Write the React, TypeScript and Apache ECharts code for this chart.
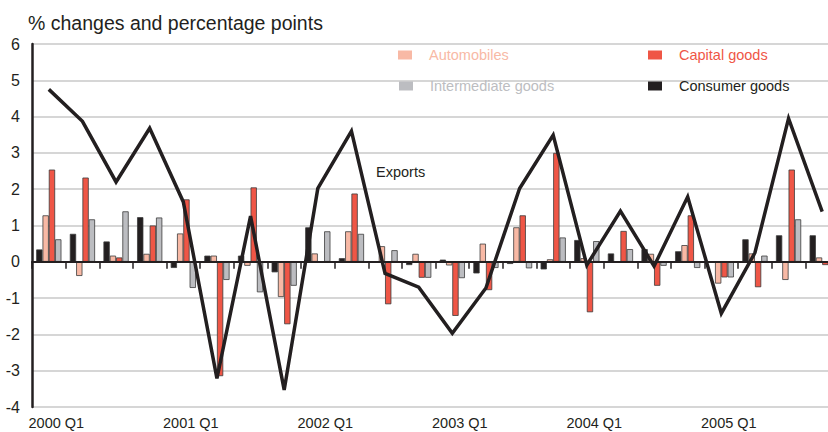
import React, { useEffect, useRef } from "react";
import * as echarts from "echarts";

const categories = [
  "2000 Q1", "2000 Q2", "2000 Q3", "2000 Q4",
  "2001 Q1", "2001 Q2", "2001 Q3", "2001 Q4",
  "2002 Q1", "2002 Q2", "2002 Q3", "2002 Q4",
  "2003 Q1", "2003 Q2", "2003 Q3", "2003 Q4",
  "2004 Q1", "2004 Q2", "2004 Q3", "2004 Q4",
  "2005 Q1", "2005 Q2", "2005 Q3", "2005 Q4",
];

const consumerGoods = [0.34, 0.77, 0.56, 1.23, -0.17, 0.17, 0.17, -0.29, 0.95, 0.1, 0.0, -0.09, 0.06, -0.32, -0.06, -0.21, 0.6, 0.23, 0.35, 0.29, 0.0, 0.62, 0.73, 0.73];
const automobiles = [1.28, -0.39, 0.17, 0.22, 0.78, 0.17, -0.11, -0.97, 0.23, 0.84, 0.43, 0.22, -0.1, 0.5, 0.95, 0.07, 0.1, 0.0, 0.22, 0.46, -0.6, 0.23, -0.5, 0.12];
const capitalGoods = [2.54, 2.32, 0.12, 1.0, 1.72, -3.15, 2.05, -1.72, 0.0, 1.88, -1.17, -0.44, -1.49, -0.78, 1.28, 3.0, -1.39, 0.85, -0.66, 1.28, -0.43, -0.7, 2.54, -0.09];
const intermediateGoods = [0.62, 1.17, 1.39, 1.22, -0.72, -0.5, -0.84, -0.66, 0.84, 0.77, 0.32, -0.44, -0.45, -0.17, -0.18, 0.67, 0.57, 0.35, -0.11, -0.17, -0.43, 0.17, 1.17, 0.2];
const exportsGrowth = [4.75, 3.87, 2.2, 3.68, 1.65, -3.21, 1.26, -3.53, 2.02, 3.6, -0.32, -0.7, -1.97, -0.72, 2.02, 3.49, -0.09, 1.4, -0.12, 1.79, -1.42, 0.25, 3.95, 1.38];

const yTicks = { min: -4, max: 6, interval: 1 };

const FONT = '"Liberation Sans", Arial, Helvetica, sans-serif';
const SMALL = 14.5;

const C_BLACK = "#231F20";
const C_SALMON = "#F8B9A5";
const C_RED = "#EF5646";
const C_GREY = "#BCBDC1";
const BORDER = "#3c3c3c";

function legendItem(name: string, color: string, left: number, top: number) {
  return {
    show: true,
    data: [{ name, textStyle: { color } }],
    left,
    top,
    padding: 0,
    itemWidth: 14,
    itemHeight: 9,
    selectedMode: false,
    icon: "rect",
    itemStyle: { borderWidth: 0 },
    textStyle: {
      fontFamily: FONT,
      fontSize: SMALL,
      lineHeight: 18,
      padding: [0, 0, 0, 12],
    },
  };
}

export default function App() {
  const ref = useRef<HTMLDivElement>(null);

  useEffect(() => {
    if (!ref.current) return;
    const chart = echarts.init(ref.current, null, { renderer: "svg" });

    const barBase = {
      type: "bar",
      xAxisIndex: 0,
      yAxisIndex: 0,
      barGap: "0%",
      barCategoryGap: "25%",
      z: 2,
    };

    chart.setOption({
      animation: false,
      backgroundColor: "#ffffff",
      title: {
        text: "% changes and percentage points",
        left: 28,
        top: 12,
        padding: 0,
        textStyle: {
          fontFamily: FONT,
          fontSize: 19.5,
          fontWeight: "normal",
          color: C_BLACK,
          lineHeight: 22,
        },
      },
      legend: [
        legendItem("Automobiles", C_SALMON, 398, 46),
        legendItem("Capital goods", C_RED, 648, 46),
        legendItem("Intermediate goods", C_GREY, 399, 77),
        legendItem("Consumer goods", C_BLACK, 648, 77),
      ],
      grid: {
        left: 32,
        top: 44,
        width: 807,
        height: 363,
        containLabel: false,
      },
      xAxis: [
        {
          type: "category",
          data: categories,
          position: "bottom",
          axisLine: { show: false, onZero: false },
          axisTick: { show: false },
          splitLine: { show: false },
          axisLabel: {
            interval: 3,
            fontFamily: FONT,
            fontSize: SMALL,
            color: C_BLACK,
            margin: 8,
            padding: [0, 0, 0, 15],
          },
        },
        {
          type: "category",
          data: categories,
          position: "bottom",
          z: 3,
          axisLine: {
            show: true,
            onZero: true,
            onZeroAxisIndex: 0,
            lineStyle: { color: C_BLACK, width: 2 },
          },
          axisTick: {
            show: true,
            interval: 0,
            length: 7,
            inside: false,
            lineStyle: { color: C_BLACK, width: 1.5 },
          },
          axisLabel: { show: false },
          splitLine: { show: false },
        },
      ],
      yAxis: {
        type: "value",
        min: yTicks.min,
        max: yTicks.max,
        interval: yTicks.interval,
        axisLine: { show: true, lineStyle: { color: C_BLACK, width: 2.5 } },
        axisTick: { show: false },
        axisLabel: {
          fontFamily: FONT,
          fontSize: 16,
          color: C_BLACK,
          margin: 12,
        },
        splitLine: { show: true, lineStyle: { color: "#c8c8c8", width: 1.5 } },
      },
      graphic: [
        {
          type: "text",
          x: 376,
          y: 172,
          style: {
            text: "Exports",
            fontFamily: FONT,
            fontSize: SMALL,
            fill: C_BLACK,
            verticalAlign: "middle",
          },
          z: 10,
        },
      ],
      series: [
        {
          ...barBase,
          name: "Consumer goods",
          data: consumerGoods,
          itemStyle: { color: C_BLACK, borderColor: BORDER, borderWidth: 0.8 },
        },
        {
          ...barBase,
          name: "Automobiles",
          data: automobiles,
          itemStyle: { color: C_SALMON, borderColor: BORDER, borderWidth: 0.8 },
        },
        {
          ...barBase,
          name: "Capital goods",
          data: capitalGoods,
          itemStyle: { color: C_RED, borderColor: BORDER, borderWidth: 0.8 },
        },
        {
          ...barBase,
          name: "Intermediate goods",
          data: intermediateGoods,
          itemStyle: { color: C_GREY, borderColor: BORDER, borderWidth: 0.8 },
        },
        {
          type: "line",
          name: "Exports",
          data: exportsGrowth,
          xAxisIndex: 0,
          yAxisIndex: 0,
          showSymbol: false,
          symbol: "none",
          z: 5,
          lineStyle: { color: C_BLACK, width: 3.5, join: "miter" },
          itemStyle: { color: C_BLACK },
        },
      ],
    });

    return () => {
      chart.dispose();
    };
  }, []);

  return (
    <div
      style={{
        position: "absolute",
        left: 0,
        top: 0,
        width: 828,
        height: 432,
        overflow: "hidden",
      }}
    >
      <div ref={ref} style={{ width: 845, height: 432 }} />
    </div>
  );
}
